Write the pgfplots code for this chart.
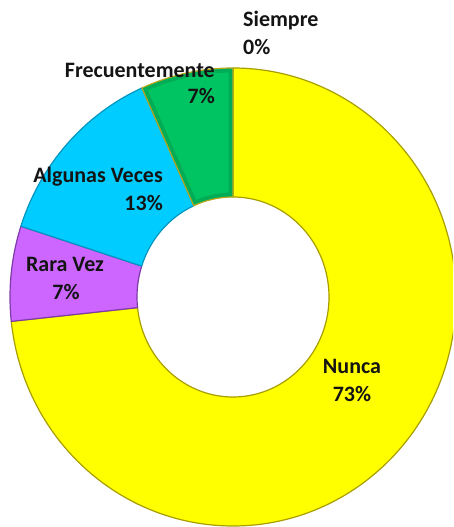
\documentclass[border=0pt]{standalone}
\usepackage{pgfplots}
\pgfplotsset{compat=1.18}
\usepackage{fontspec}
\setmainfont{Carlito}

\definecolor{nunca}{HTML}{FFFF00}
\definecolor{nuncaL}{HTML}{A89E00}
\definecolor{rara}{HTML}{CC66FF}
\definecolor{raraL}{HTML}{7E3AA8}
\definecolor{algunas}{HTML}{00CCFF}
\definecolor{algunasL}{HTML}{0096C0}
\definecolor{frec}{HTML}{00C462}
\definecolor{frecB}{HTML}{00AC55}
\definecolor{frecL}{HTML}{B8A820}
\definecolor{txt}{HTML}{141414}

\tikzset{lbl/.style={font=\fontsize{22}{27}\selectfont\bfseries, text=txt, inner sep=0pt}}

% one ring slice from cumulative percent #1 to #2, clockwise from the top
\newcommand{\slicepath}[2]{(axis cs:233,230) ++({90-3.6*#1}:223pt and 229pt)
  arc[start angle={90-3.6*#1}, end angle={90-3.6*#2}, x radius=223pt, y radius=229pt]
  -- ++({90-3.6*#2}:-127pt and -129pt)
  arc[start angle={90-3.6*#2}, end angle={90-3.6*#1}, x radius=96pt, y radius=100pt] -- cycle}
\newcommand{\slice}[4]{\filldraw[fill=#3, draw=#4, line width=1.2pt, line join=round] \slicepath{#1}{#2};}

\begin{document}
\begin{tikzpicture}
\begin{axis}[
  x=1pt, y=1pt,
  xmin=0, xmax=453, ymin=0, ymax=527,
  hide axis,
]
% Nunca 73.3, Rara Vez 6.7, Algunas Veces 13.3, Frecuentemente 6.7, Siempre 0
\slice{0}{73.3}{nunca}{nuncaL}
\slice{73.3}{80.0}{rara}{raraL}
\slice{80.0}{93.3}{algunas}{algunasL}
\fill[frec] \slicepath{93.3}{100};
\begin{scope}
  \clip \slicepath{93.3}{100};
  \draw[frecB, line width=9pt, line join=round] \slicepath{93.3}{100};
\end{scope}
\draw[frecL, line width=1.2pt, line join=round] \slicepath{93.3}{100};

\node[lbl, anchor=base west] at (axis cs:243,500) {Siempre};
\node[lbl, anchor=base west] at (axis cs:243,472) {0\%};
\node[lbl, anchor=base east] at (axis cs:215,449) {Frecuentemente};
\node[lbl, anchor=base east] at (axis cs:215,423) {7\%};
\node[lbl, anchor=base east] at (axis cs:163,344) {Algunas Veces};
\node[lbl, anchor=base east] at (axis cs:163,316) {13\%};
\node[lbl, anchor=base] at (axis cs:65,255) {Rara Vez};
\node[lbl, anchor=base] at (axis cs:66,227) {7\%};
\node[lbl, anchor=base] at (axis cs:352,153) {Nunca};
\node[lbl, anchor=base] at (axis cs:352,125) {73\%};
\end{axis}
\pgfresetboundingbox
\useasboundingbox (current axis.south west) rectangle (current axis.north east);
\end{tikzpicture}
\end{document}
